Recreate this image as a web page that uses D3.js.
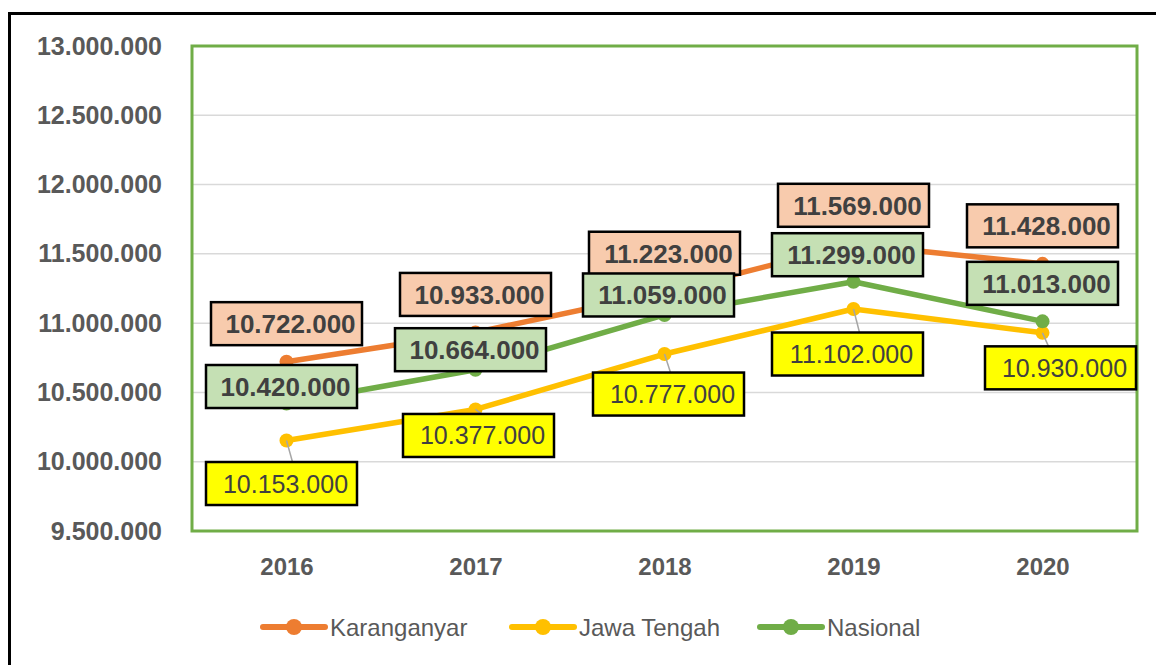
<!DOCTYPE html>
<html>
<head>
<meta charset="utf-8">
<script src="https://cdn.jsdelivr.net/npm/d3@7"></script>
<style>
  body { margin: 0; background: #fff; }
  text { font-family: "Liberation Sans", Arial, sans-serif; }
</style>
</head>
<body>
<div class="chart"></div>
<script>
// data
const years = ['2016', '2017', '2018', '2019', '2020'];
const karanganyar = [10722000, 10933000, 11223000, 11569000, 11428000];
const jawaTengah = [10153000, 10377000, 10777000, 11102000, 10930000];
const nasional = [10420000, 10664000, 11059000, 11299000, 11013000];
const yTicks = [9500000, 10000000, 10500000, 11000000, 11500000, 12000000, 12500000, 13000000];

// label nudges (like dragged excel labels), relative to point
const labelNudge = {
  karanganyar: [[0, -38], [0, -38], [0, -39], [0, -39], [0, -38]],
  jawaTengah: [[-5, 43], [3, 26], [4, 40], [-6, 45], [18, 35]],
  nasional: [[-5, -17], [-5, -20], [-6, -20], [-6, -27], [0, -38]]
};

const series = [
  {key: 'karanganyar', name: 'Karanganyar', values: karanganyar, color: '#ED7D31', fill: '#F8CBAD', bold: true, leader: false},
  {key: 'jawaTengah', name: 'Jawa Tengah', values: jawaTengah, color: '#FFC000', fill: '#FFFF00', bold: false, leader: true},
  {key: 'nasional', name: 'Nasional', values: nasional, color: '#70AD47', fill: '#C5E0B4', bold: true, leader: false}
];

const idLocale = d3.formatLocale({decimal: ',', thousands: '.', grouping: [3], currency: ['Rp', '']});
const fmt = idLocale.format(',d');

const svg = d3.select('.chart')
  .append('svg')
  .attr('width', 1156)
  .attr('height', 665);

// outer frame
svg.append('rect')
  .attr('x', 9.5)
  .attr('y', 13.5)
  .attr('width', 1300)
  .attr('height', 800)
  .attr('fill', 'none')
  .attr('stroke', '#000')
  .attr('stroke-width', 3);

const plot = {left: 192, right: 1137, top: 46, bottom: 531};

const x = d3.scalePoint()
  .domain(years)
  .range([plot.left, plot.right])
  .padding(0.5);

const y = d3.scaleLinear()
  .domain([9500000, 13000000])
  .range([plot.bottom, plot.top]);

// gridlines
svg.append('g')
  .selectAll('line')
  .data(yTicks)
  .enter().append('line')
    .attr('x1', plot.left)
    .attr('x2', plot.right)
    .attr('y1', d => y(d))
    .attr('y2', d => y(d))
    .attr('stroke', '#D9D9D9')
    .attr('stroke-width', 1.5);

// y axis labels
const yAxis = d3.axisLeft(y)
  .tickValues(yTicks)
  .tickFormat(fmt)
  .tickSize(0)
  .tickPadding(0);

const yAxisGroup = svg.append('g')
  .attr('transform', `translate(162, 0)`)
  .call(yAxis);
yAxisGroup.select('.domain').remove();
yAxisGroup.selectAll('text')
  .attr('font-family', '"Liberation Sans", Arial, sans-serif')
  .attr('font-size', 25)
  .attr('font-weight', 'bold')
  .attr('fill', '#595959');

// x axis labels
const xAxis = d3.axisBottom(x).tickSize(0).tickPadding(0);
const xAxisGroup = svg.append('g')
  .attr('transform', `translate(0, 558)`)
  .call(xAxis);
xAxisGroup.select('.domain').remove();
xAxisGroup.selectAll('text')
  .attr('font-family', '"Liberation Sans", Arial, sans-serif')
  .attr('font-size', 24)
  .attr('font-weight', 'bold')
  .attr('fill', '#595959');

// plot area border (green)
svg.append('rect')
  .attr('x', plot.left)
  .attr('y', plot.top)
  .attr('width', plot.right - plot.left)
  .attr('height', plot.bottom - plot.top)
  .attr('fill', 'none')
  .attr('stroke', '#70AD47')
  .attr('stroke-width', 3);

const line = d3.line()
  .x((d, i) => x(years[i]))
  .y(d => y(d));

// lines + markers
series.forEach(s => {
  svg.append('path')
    .datum(s.values)
    .attr('d', line)
    .attr('fill', 'none')
    .attr('stroke', s.color)
    .attr('stroke-width', 5.5)
    .attr('stroke-linejoin', 'round');

  svg.append('g')
    .selectAll('circle')
    .data(s.values)
    .enter().append('circle')
      .attr('cx', (d, i) => x(years[i]))
      .attr('cy', d => y(d))
      .attr('r', 7)
      .attr('fill', s.color);
});

// data labels
const boxW = 151, boxH = 43;
series.forEach(s => {
  s.values.forEach((v, i) => {
    const px = x(years[i]), py = y(v);
    const [dx, dy] = labelNudge[s.key][i];
    const cx = px + dx, cy = py + dy;
    const left = cx - boxW / 2, top = cy - boxH / 2;

    if (s.leader) {
      const lx = Math.max(left, Math.min(left + boxW, px + 6));
      svg.append('line')
        .attr('x1', px)
        .attr('y1', py)
        .attr('x2', lx)
        .attr('y2', top)
        .attr('stroke', '#A6A6A6')
        .attr('stroke-width', 1.5);
    }

    svg.append('rect')
      .attr('x', left)
      .attr('y', top)
      .attr('width', boxW)
      .attr('height', boxH)
      .attr('fill', s.fill)
      .attr('stroke', '#000')
      .attr('stroke-width', 2.5);

    svg.append('text')
      .attr('x', cx + 4)
      .attr('y', cy)
      .attr('dy', '0.36em')
      .attr('text-anchor', 'middle')
      .attr('font-size', s.bold ? 26 : 25)
      .attr('font-weight', s.bold ? 'bold' : 'normal')
      .attr('fill', '#404040')
      .text(fmt(v));
  });
});

// legend
const legendPos = [263, 512, 760];
const legend = svg.append('g')
  .selectAll('g')
  .data(series)
  .enter().append('g')
    .attr('transform', (d, i) => `translate(${legendPos[i]}, 627)`);
legend.append('line')
  .attr('x1', 0)
  .attr('x2', 62)
  .attr('stroke', d => d.color)
  .attr('stroke-width', 6)
  .attr('stroke-linecap', 'round');
legend.append('circle')
  .attr('cx', 31)
  .attr('r', 8)
  .attr('fill', d => d.color);
legend.append('text')
  .attr('x', 67)
  .attr('dy', '0.36em')
  .attr('font-size', 24)
  .attr('fill', '#595959')
  .text(d => d.name);
</script>
</body>
</html>
